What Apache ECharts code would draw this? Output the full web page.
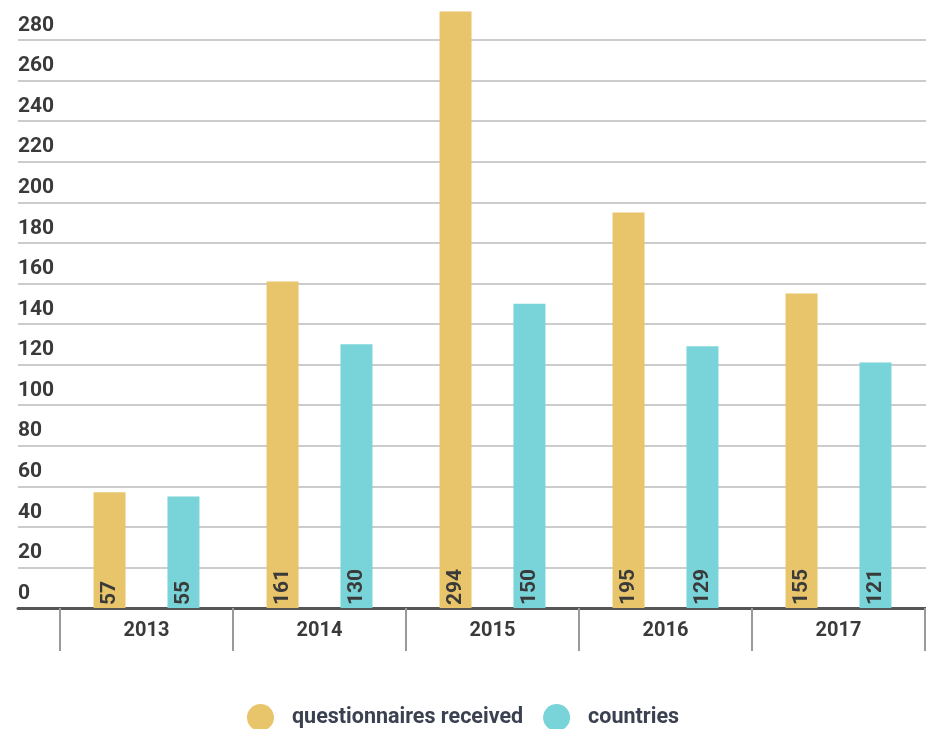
<!DOCTYPE html>
<html>
<head>
<meta charset="utf-8">
<script src="https://cdn.jsdelivr.net/npm/echarts@6/dist/echarts.min.js"></script>
<style>html,body{margin:0;padding:0;background:#fff;}#c{width:926px;height:729px;}</style>
</head>
<body>
<div id="c"></div>
<script>
const years = ['2013', '2014', '2015', '2016', '2017'];
const questionnaires = [57, 161, 294, 195, 155];
const countries = [55, 130, 150, 129, 121];
const seriesNames = ['questionnaires received', 'countries'];
const yMin = 0, yMax = 280, yStep = 20;

const FONT = 'Roboto';
const W = 'bold';
const barLabel = {
  show: true, position: 'insideBottom', rotate: 90, align: 'left', verticalAlign: 'middle',
  distance: 3, fontFamily: FONT, fontWeight: W, fontSize: 21, color: '#3a3a3a'
};

const chart = echarts.init(document.getElementById('c'));
chart.setOption({
  backgroundColor: '#fff',
  animation: false,
  grid: [
    { left: 18, right: 0, top: 40, bottom: 121 },
    { left: 60, right: 1, top: 40, bottom: 121 }
  ],
  legend: {
    data: seriesNames, left: 'center', top: 699, icon: 'circle',
    itemWidth: 27, itemHeight: 27, itemGap: 20,
    textStyle: { fontFamily: FONT, fontWeight: W, fontSize: 21.5, color: '#3b4150', padding: [0, 0, 0, 13] }
  },
  xAxis: [
    { type: 'category', gridIndex: 0, data: [''],
      axisLine: { show: true, lineStyle: { color: '#555', width: 3 } },
      axisTick: { show: false }, axisLabel: { show: false }, splitLine: { show: false } },
    { type: 'category', gridIndex: 1, data: years,
      axisLine: { show: false },
      axisTick: { show: true, length: 43, lineStyle: { color: '#9a9a9a', width: 2 } },
      axisLabel: { fontFamily: FONT, fontWeight: W, fontSize: 20, color: '#3a3a3a', margin: 13 } }
  ],
  yAxis: [
    { type: 'value', gridIndex: 0, min: yMin, max: yMax, interval: yStep,
      axisLine: { show: false }, axisTick: { show: false },
      axisLabel: { inside: true, align: 'left', verticalAlign: 'bottom', margin: 0, padding: [0, 0, 4, 0],
        fontFamily: FONT, fontWeight: W, fontSize: 21, color: '#3a3a3a' },
      splitLine: { lineStyle: { color: '#cccccc', width: 2 } } },
    { type: 'value', gridIndex: 1, min: yMin, max: yMax, interval: yStep, show: false, splitLine: { show: false } }
  ],
  series: [
    { name: seriesNames[0], type: 'bar', xAxisIndex: 1, yAxisIndex: 1, data: questionnaires,
      barWidth: 32, barGap: '131%', clip: false, itemStyle: { color: '#E8C46B' }, label: barLabel, z: 3 },
    { name: seriesNames[1], type: 'bar', xAxisIndex: 1, yAxisIndex: 1, data: countries,
      barWidth: 32, barGap: '131%', clip: false, itemStyle: { color: '#78D4D8' }, label: barLabel, z: 3 }
  ]
});
</script>
</body>
</html>
